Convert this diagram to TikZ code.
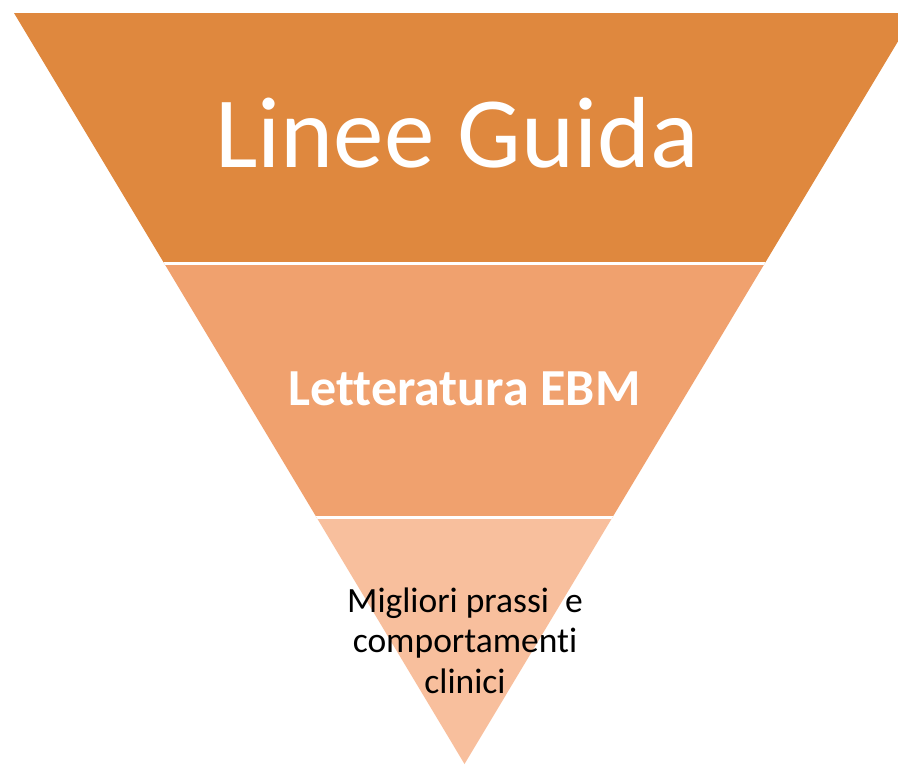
\documentclass[tikz,border=0pt]{standalone}
\usepackage{fontspec}
\setmainfont{Carlito}[Ligatures=NoCommon]
\usetikzlibrary{calc}

\definecolor{bandtop}{RGB}{223,136,62}
\definecolor{bandmid}{RGB}{240,161,110}
\definecolor{bandlow}{RGB}{248,191,157}

\begin{document}
\begin{tikzpicture}[x=1pt,y=-1pt,
  label/.style={inner sep=0pt,anchor=base,align=center}]
\useasboundingbox (0,0) rectangle (898,764);
\coordinate (A) at (14,13);
\coordinate (B) at (915,13);
\coordinate (C) at (464.5,764);

\begin{scope}
\clip (0,0) rectangle (898,764);
\clip (A)--(B)--(C)--cycle;
\fill[bandtop] (0,0) rectangle (920,263.5);
\fill[bandmid] (0,263.5) rectangle (920,517.5);
\fill[bandlow] (0,517.5) rectangle (920,770);
\draw[white,line width=3pt] (0,263.5)--(920,263.5);% gaps between bands
\draw[white,line width=3pt] (0,517.5)--(920,517.5);
\end{scope}

\node[label,white,font=\fontsize{101}{121}\selectfont] (guide) at (457,167) {Linee Guida};
\node[label,white,font=\fontsize{52}{62}\selectfont\bfseries] (ebm) at (464.5,405) {Letteratura EBM};
\node[label,black,font=\fontsize{35.5}{40.5}\selectfont] (prassi) at (465,693) {Migliori prassi\ \ e\\comportamenti\\clinici};

\end{tikzpicture}
\end{document}
